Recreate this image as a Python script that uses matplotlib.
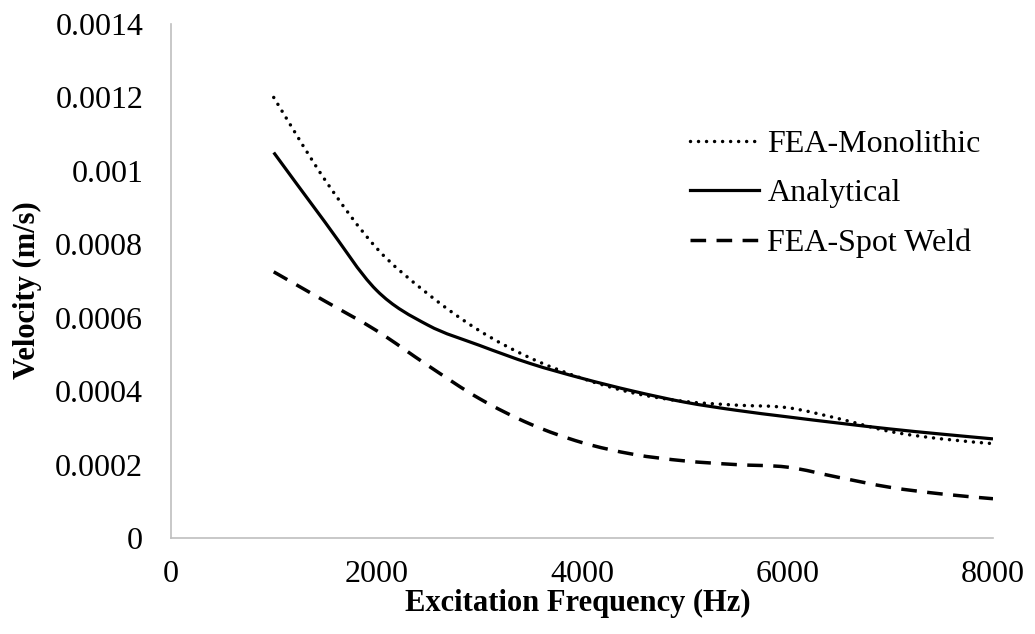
import numpy as np
import matplotlib.pyplot as plt
from matplotlib.path import Path
from matplotlib.patches import PathPatch
from matplotlib.lines import Line2D

plt.rcParams['font.family'] = ['Liberation Serif', 'DejaVu Serif']

freq = [1000, 1500, 2000, 2500, 3000, 3500, 4000, 4500,
        5000, 5500, 6000, 6500, 7000, 7500, 8000]
fea_mono = [1.200, 0.975, 0.790, 0.665, 0.565, 0.490, 0.435, 0.395,
            0.372, 0.362, 0.355, 0.325, 0.290, 0.270, 0.257]
analytical = [1.050, 0.860, 0.675, 0.580, 0.525, 0.475, 0.435, 0.400,
              0.370, 0.348, 0.330, 0.313, 0.297, 0.283, 0.270]
fea_spot = [0.725, 0.645, 0.565, 0.470, 0.380, 0.310, 0.260, 0.228,
            0.210, 0.200, 0.193, 0.165, 0.138, 0.120, 0.107]
scale = 1e-3  # lists above are in units of 1e-3 m/s


def smooth_path(x, y):
    """Catmull-Rom style bezier through the points (like a smoothed line)"""
    p = np.column_stack([x, y]).astype(float)
    n = len(p)
    verts = [p[0]]
    codes = [Path.MOVETO]
    for i in range(n - 1):
        p0 = p[i - 1] if i > 0 else p[i]
        p3 = p[i + 2] if i + 2 < n else p[i + 1]
        c1 = p[i] + (p[i + 1] - p0) / 6.0
        c2 = p[i + 1] - (p3 - p[i]) / 6.0
        verts += [c1, c2, p[i + 1]]
        codes += [Path.CURVE4] * 3
    return Path(verts, codes)


series = [
    ('FEA-Monolithic', fea_mono, dict(lw=2.5, ls=(0, (0.01, 2.3)), cap='round')),
    ('Analytical', analytical, dict(lw=2.3, ls='-', cap='butt')),
    ('FEA-Spot Weld', fea_spot, dict(lw=2.5, ls=(0, (4.5, 3)), cap='butt')),
]

fs = 23
fig = plt.figure(figsize=(10.35, 6.34), dpi=100)
ax = fig.add_axes([0.1652, 0.1514, 0.7942, 0.8107])

handles = []
for name, vals, st in series:
    y = np.array(vals) * scale
    patch = PathPatch(smooth_path(freq, y), facecolor='none', edgecolor='black',
                      lw=st['lw'], linestyle=st['ls'], capstyle=st['cap'])
    ax.add_patch(patch)
    h = Line2D([], [], color='black', lw=st['lw'], linestyle=st['ls'])
    h.set_dash_capstyle(st['cap'])
    handles.append(h)

ax.set_xlim(0, 8000)
ax.set_ylim(0, 0.0014)
ax.set_xticks(np.arange(0, 8001, 2000))
ax.set_yticks(np.arange(0, 0.00141, 0.0002))
ax.set_yticklabels(['0', '0.0002', '0.0004', '0.0006', '0.0008',
                    '0.001', '0.0012', '0.0014'])
ax.tick_params(length=0, labelsize=fs)
ax.tick_params(axis='y', pad=20)
ax.tick_params(axis='x', pad=16)

for s in ['top', 'right']:
    ax.spines[s].set_visible(False)
for s in ['left', 'bottom']:
    ax.spines[s].set_color('#bfbfbf')
    ax.spines[s].set_linewidth(1.2)

ax.set_xlabel('Excitation Frequency (Hz)', fontsize=22, fontweight='bold', va='center')
ax.set_ylabel('Velocity (m/s)', fontsize=22, fontweight='bold', va='center')
ax.xaxis.set_label_coords(0.495, -0.128)
ax.yaxis.set_label_coords(-0.174, 0.482)

ax.legend(handles, [s[0] for s in series], loc='upper left',
          bbox_to_anchor=(0.597, 0.85), frameon=False, fontsize=fs,
          handlelength=2.13, handletextpad=0.28, labelspacing=0.62)

plt.savefig('out.png')
